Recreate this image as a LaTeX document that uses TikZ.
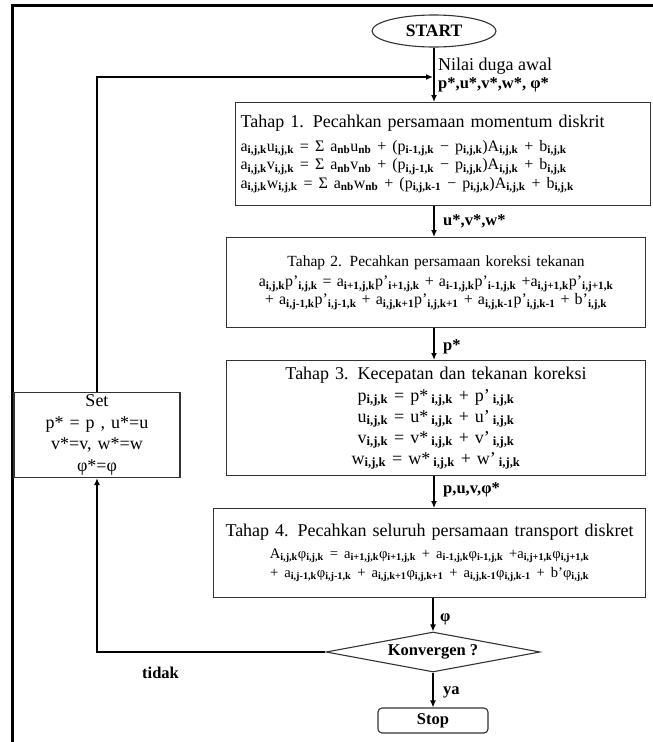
\documentclass[tikz,border=0pt]{standalone}
\usepackage{fontspec}
\setmainfont{Liberation Serif}
\usetikzlibrary{shapes.geometric,arrows.meta}
\newcommand{\sbs}[1]{\textsubscript{\bfseries #1}}
\newcommand{\ph}{φ}
\begin{document}
\begin{tikzpicture}[x=1pt,y={(0pt,-1pt)},
  box/.style={draw=black!80, line width=1.1pt, rectangle, inner sep=4pt},
  flow/.style={line width=1.3pt, -{Latex[length=7pt,width=6pt]}},
  lbl/.style={anchor=west, inner sep=0pt, font=\fontsize{16.5}{19}\selectfont\bfseries}]
\useasboundingbox (0,0) rectangle (653,742);
\fill[white] (0,0) rectangle (653,742);
% outer frame (top and left edges visible)
\draw[line width=3pt] (12,742) -- (12,5) -- (653,5);

\node[draw=black!80, line width=1.1pt, ellipse, minimum width=124pt, minimum height=32pt, inner sep=0pt,
  font=\fontsize{17.5}{19}\selectfont\bfseries] (start) at (434,31) {START};

\node[box, minimum width=415pt, minimum height=103pt, text width=405pt, align=left, anchor=north west,
  font=\fontsize{18}{19}\selectfont] (b1) at (235,102)
 {Tahap 1. Pecahkan persamaan momentum diskrit\\[5pt]
  \fontsize{16}{18.5}\selectfont
  a\sbs{i,j,k}u\sbs{i,j,k} = Σ a\sbs{nb}u\sbs{nb} + (p\sbs{i-1,j,k} − p\sbs{i,j,k})A\sbs{i,j,k} + b\sbs{i,j,k}\\
  a\sbs{i,j,k}v\sbs{i,j,k} = Σ a\sbs{nb}v\sbs{nb} + (p\sbs{i,j-1,k} − p\sbs{i,j,k})A\sbs{i,j,k} + b\sbs{i,j,k}\\
  a\sbs{i,j,k}w\sbs{i,j,k} = Σ a\sbs{nb}w\sbs{nb} + (p\sbs{i,j,k-1} − p\sbs{i,j,k})A\sbs{i,j,k} + b\sbs{i,j,k}\\[10pt]};

\node[box, minimum width=419pt, minimum height=90pt, text width=410pt, align=center, anchor=north west,
  font=\fontsize{15.5}{18}\selectfont] (b2) at (226,237)
 {Tahap 2. Pecahkan persamaan koreksi tekanan\\[-5pt]
  \fontsize{16}{25}\selectfont
  a\sbs{i,j,k}p'\sbs{i,j,k} = a\sbs{i+1,j,k}p'\sbs{i+1,j,k} + a\sbs{i-1,j,k}p'\sbs{i-1,j,k} +a\sbs{i,j+1,k}p'\sbs{i,j+1,k}\\
  + a\sbs{i,j-1,k}p'\sbs{i,j-1,k} + a\sbs{i,j,k+1}p'\sbs{i,j,k+1} + a\sbs{i,j,k-1}p'\sbs{i,j,k-1} + b'\sbs{i,j,k}};

\node[box, minimum width=419pt, minimum height=115pt, text width=410pt, align=center, anchor=north west,
  font=\fontsize{18}{21}\selectfont] (b3) at (226,360)
 {Tahap 3. Kecepatan dan tekanan koreksi\\[1pt]
  p\sbs{i,j,k} = p*\,\sbs{i,j,k} + p'\,\sbs{i,j,k}\\
  u\sbs{i,j,k} = u*\,\sbs{i,j,k} + u'\,\sbs{i,j,k}\\
  v\sbs{i,j,k} = v*\,\sbs{i,j,k} + v'\,\sbs{i,j,k}\\
  w\sbs{i,j,k} = w*\,\sbs{i,j,k} + w'\,\sbs{i,j,k}\\[-4pt]};

\node[box, minimum width=432pt, minimum height=89pt, text width=424pt, align=center, anchor=north west,
  font=\fontsize{18}{19}\selectfont] (b4) at (213,508)
 {Tahap 4. Pecahkan seluruh persamaan transport diskret\\[1pt]
  \fontsize{14.6}{21}\selectfont
  A\sbs{i,j,k}\ph\sbs{i,j,k} = a\sbs{i+1,j,k}\ph\sbs{i+1,j,k} + a\sbs{i-1,j,k}\ph\sbs{i-1,j,k} +a\sbs{i,j+1,k}\ph\sbs{i,j+1,k}\\
  + a\sbs{i,j-1,k}\ph\sbs{i,j-1,k} + a\sbs{i,j,k+1}\ph\sbs{i,j,k+1} + a\sbs{i,j,k-1}\ph\sbs{i,j,k-1} + b'\ph\sbs{i,j,k}};

\node[draw=black!80, line width=1.1pt, diamond, aspect=5.4, minimum width=214pt, minimum height=40pt, inner sep=0pt,
  font=\fontsize{16.5}{19}\selectfont\bfseries] (dec) at (433,652) {Konvergen ?};

\node[draw=black!80, line width=1.1pt, rectangle, rounded corners=4pt, minimum width=110pt, minimum height=25pt, inner sep=0pt,
  font=\fontsize{16.5}{19}\selectfont\bfseries] (stop) at (433,720.5) {Stop};

\node[box, minimum width=166pt, minimum height=85pt, text width=158pt, align=center, anchor=north, inner sep=2pt,
  font=\fontsize{18}{21.5}\selectfont] (set) at (97,392)
 {Set\\ p* = p , u*=u\\ v*=v, w*=w\\ \ph*=\ph};

% coordinates for the loop
\coordinate (j) at (433,77);
\coordinate (c1) at (97,652);
\coordinate (c2) at (97,77);

% connectors
\draw[flow] (start) -- (start |- b1.north);
\draw[flow] (b1.south -| start) -- (b2.north -| start);
\draw[flow] (b2.south -| start) -- (b3.north -| start);
\draw[flow] (b3.south -| start) -- (b4.north -| start);
\draw[flow] (b4.south -| dec) -- (dec.north);
\draw[flow] (dec.south) -- (stop.north);
\draw[flow] (dec.west) -- (c1) -- (set.south);
\draw[flow] (set.north) -- (c2) -- (j);

% labels
\node[lbl, align=left, font=\fontsize{16.5}{18}\selectfont\bfseries] (l0) at (438,75)
 {{\fontsize{18}{18}\selectfont\mdseries Nilai duga awal}\\p*,u*,v*,w*, \ph*};
\node[lbl] (l1) at (443,221) {u*,v*,w*};
\node[lbl] (l2) at (443,347) {p*};
\node[lbl] (l3) at (443,490) {p,u,v,\ph*};
\node[lbl] (l4) at (440,619) {\ph};
\node[lbl] (l5) at (443,692) {ya};
\node[lbl] (l6) at (142,673) {tidak};
\end{tikzpicture}
\end{document}
